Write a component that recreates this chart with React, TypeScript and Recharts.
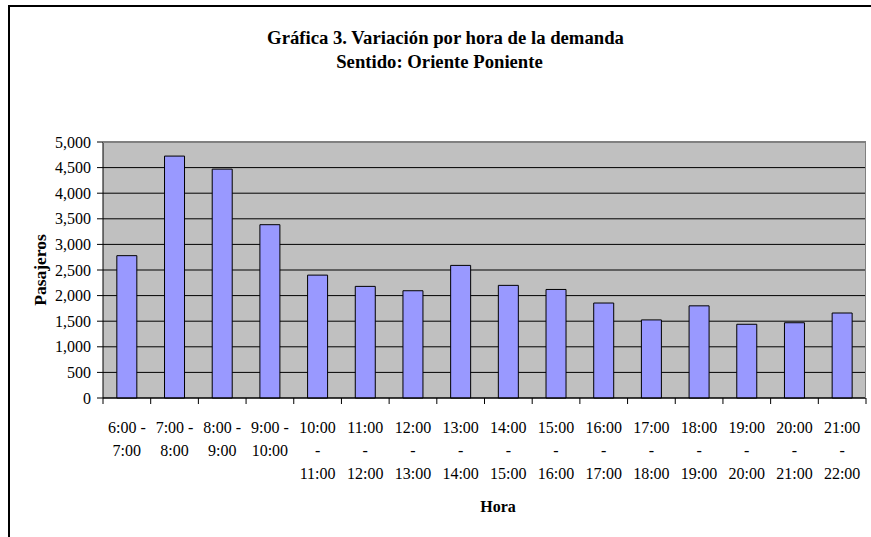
import { BarChart, Bar, XAxis, YAxis, CartesianGrid } from "recharts";

const horas = [
  "6:00 - 7:00",
  "7:00 - 8:00",
  "8:00 - 9:00",
  "9:00 - 10:00",
  "10:00 - 11:00",
  "11:00 - 12:00",
  "12:00 - 13:00",
  "13:00 - 14:00",
  "14:00 - 15:00",
  "15:00 - 16:00",
  "16:00 - 17:00",
  "17:00 - 18:00",
  "18:00 - 19:00",
  "19:00 - 20:00",
  "20:00 - 21:00",
  "21:00 - 22:00",
];

const pasajeros = [
  2780, 4725, 4470, 3385, 2400, 2180, 2095, 2590, 2200, 2120, 1855, 1525,
  1800, 1440, 1470, 1660,
];

const yTicks = [0, 500, 1000, 1500, 2000, 2500, 3000, 3500, 4000, 4500, 5000];

const data = horas.map((hora, i) => ({ hora, valor: pasajeros[i] }));

const FONT = '"Liberation Serif", "Times New Roman", serif';
const W = 871;
const H = 537;
const PLOT = { left: 103, right: 866, top: 142, bottom: 398 };
const band = (PLOT.right - PLOT.left) / horas.length;

const HoraTick = (props: any) => {
  const { x, y, payload, index } = props;
  const [ini, fin] = String(payload.value).split(" - ");
  const lines = parseInt(ini, 10) < 10 ? [ini + " -", fin] : [ini, "-", fin];
  const axisY = y - 8;
  return (
    <g>
      {index === 0 && (
        <line x1={x - band / 2} x2={x - band / 2} y1={axisY} y2={axisY + 6} stroke="#000" />
      )}
      <line x1={x + band / 2} x2={x + band / 2} y1={axisY} y2={axisY + 6} stroke="#000" />
      <text textAnchor="middle" fontFamily={FONT} fontSize={16} fill="#000">
        {lines.map((l, i) => (
          <tspan key={i} x={x} y={axisY + 34.5 + i * 23.2}>
            {l}
          </tspan>
        ))}
      </text>
    </g>
  );
};

const App = () => {
  return (
    <div
      style={{
        position: "absolute",
        left: 0,
        top: 0,
        width: W,
        height: H,
        overflow: "hidden",
        background: "#fff",
        fontFamily: FONT,
      }}
    >
      <div
        style={{
          position: "absolute",
          left: 8,
          top: 5,
          width: 1000,
          height: 700,
          borderTop: "2px solid #000",
          borderLeft: "2px solid #000",
          boxSizing: "border-box",
        }}
      />
      <div
        style={{
          position: "absolute",
          left: 0,
          width: W,
          top: 26,
          textAlign: "center",
          fontWeight: "bold",
          fontSize: 18.7,
          lineHeight: "24px",
          paddingLeft: 8,
          boxSizing: "border-box",
        }}
      >
        <div style={{ paddingLeft: 12 }}>Gráfica 3. Variación por hora de la demanda</div>
        <div>Sentido: Oriente Poniente</div>
      </div>
      <div style={{ position: "absolute", left: 0, top: 0 }}>
        <BarChart
          width={W}
          height={H}
          data={data}
          margin={{
            top: PLOT.top,
            right: W - PLOT.right,
            left: PLOT.left - 60,
            bottom: H - PLOT.bottom - 100,
          }}
          barCategoryGap="29%"
        >
          <CartesianGrid vertical={false} stroke="#000" fill="#C0C0C0" />
          <XAxis
            dataKey="hora"
            interval={0}
            height={100}
            tickLine={false}
            axisLine={{ stroke: "#000" }}
            tick={<HoraTick />}
          />
          <YAxis
            width={60}
            domain={[0, 5000]}
            ticks={yTicks}
            interval={0}
            tickSize={6}
            tickMargin={6}
            axisLine={{ stroke: "#000" }}
            tickLine={{ stroke: "#000" }}
            tick={{ fontFamily: FONT, fontSize: 16, fill: "#000" }}
            tickFormatter={(v: number) => v.toLocaleString("en-US")}
          />
          <Bar dataKey="valor" fill="#9999FF" stroke="#000" strokeWidth={1} isAnimationActive={false} />
        </BarChart>
      </div>
      <div
        style={{
          position: "absolute",
          left: PLOT.left,
          top: PLOT.top,
          width: PLOT.right - PLOT.left,
          height: 1,
          borderTop: "1px solid #808080",
        }}
      />
      <div
        style={{
          position: "absolute",
          left: PLOT.right - 1,
          top: PLOT.top,
          width: 1,
          height: PLOT.bottom - PLOT.top,
          borderLeft: "1px solid #808080",
        }}
      />
      <div
        style={{
          position: "absolute",
          left: 40,
          top: 270,
          transform: "translate(-50%, -50%) rotate(-90deg)",
          fontWeight: "bold",
          fontSize: 17.5,
          whiteSpace: "nowrap",
        }}
      >
        Pasajeros
      </div>
      <div
        style={{
          position: "absolute",
          left: 498,
          top: 507,
          transform: "translate(-50%, -50%)",
          fontWeight: "bold",
          fontSize: 16,
        }}
      >
        Hora
      </div>
    </div>
  );
};

export default App;
